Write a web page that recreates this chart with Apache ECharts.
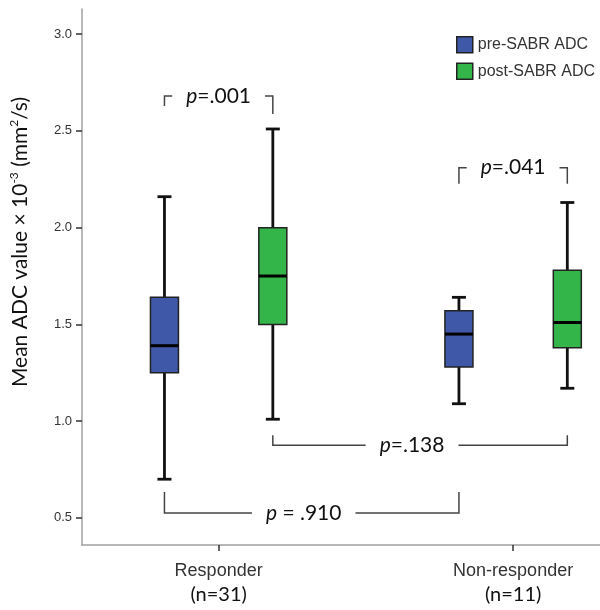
<!DOCTYPE html>
<html>
<head>
<meta charset="utf-8">
<script src="https://cdn.jsdelivr.net/npm/echarts@6/dist/echarts.min.js"></script>
<style>
  html, body { margin: 0; padding: 0; background: #fff; }
  #chart { width: 600px; height: 610px; }
</style>
</head>
<body>
<div id="chart"></div>
<script>
// data
const groups = ['Responder', 'Non-responder'];
const groupN = ['(n=31)', '(n=11)'];
const seriesNames = ['pre-SABR ADC', 'post-SABR ADC'];
// [min, Q1, median, Q3, max] per group
const preStats = [
  [0.70, 1.25, 1.39, 1.64, 2.16],
  [1.09, 1.28, 1.45, 1.57, 1.64]
];
const postStats = [
  [1.01, 1.50, 1.75, 2.00, 2.51],
  [1.17, 1.38, 1.51, 1.78, 2.13]
];
const yTicks = [0.5, 1.0, 1.5, 2.0, 2.5, 3.0];
// comparison brackets: from box, to box, y level, label
const pLabels = ['p=.001', 'p=.041', 'p=.138', 'p = .910'];
const pFrom = ['pre-0', 'pre-1', 'post-0', 'pre-0'];
const pTo = ['post-0', 'post-1', 'post-1', 'pre-1'];
const pLevel = [2.68, 2.31, 0.876, 0.526];

// layout of the boxes along the x axis
const offset = 0.184;
const boxX = {};
groups.forEach((g, i) => {
  boxX['pre-' + i] = i + 1 - offset;
  boxX['post-' + i] = i + 1 + offset;
});
const pDir = [1, 1, -1, -1]; // 1 = arms down, -1 = arms up
const pArms = [[10, 18], [16, 16], [10, 10], [21, 21]];
const pShift = [0, 0, -8, -8]; // label nudge, px

const calibri = 'Lato, "Open Sans", sans-serif';
const arial = '"Liberation Sans", Arial, sans-serif';

const chart = echarts.init(document.getElementById('chart'));

function renderBox(params, api) {
  const x = api.value(0);
  const lo = api.coord([x, api.value(1)]);
  const q1 = api.coord([x, api.value(2)]);
  const md = api.coord([x, api.value(3)]);
  const q3 = api.coord([x, api.value(4)]);
  const hi = api.coord([x, api.value(5)]);
  const hw = 14, cw = 7;
  const color = api.visual('color');
  const wStyle = { stroke: '#111', lineWidth: 2.8 };
  return {
    type: 'group',
    children: [
      { type: 'line', shape: { x1: hi[0], y1: hi[1], x2: q3[0], y2: q3[1] }, style: wStyle },
      { type: 'line', shape: { x1: q1[0], y1: q1[1], x2: lo[0], y2: lo[1] }, style: wStyle },
      { type: 'line', shape: { x1: hi[0] - cw, y1: hi[1], x2: hi[0] + cw, y2: hi[1] }, style: wStyle },
      { type: 'line', shape: { x1: lo[0] - cw, y1: lo[1], x2: lo[0] + cw, y2: lo[1] }, style: wStyle },
      {
        type: 'rect',
        shape: { x: q3[0] - hw, y: q3[1], width: hw * 2, height: q1[1] - q3[1] },
        style: { fill: color, stroke: '#222', lineWidth: 1.5 }
      },
      { type: 'line', shape: { x1: md[0] - hw, y1: md[1], x2: md[0] + hw, y2: md[1] }, style: { stroke: '#000', lineWidth: 3 } }
    ]
  };
}

function renderBracket(params, api) {
  const i = params.dataIndex;
  const a = api.coord([api.value(0), api.value(2)]);
  const b = api.coord([api.value(1), api.value(2)]);
  const d = pDir[i];
  const arms = pArms[i];
  const ls = { stroke: '#444', lineWidth: 1.5, fill: null };
  const lbl = pLabels[i];
  return {
    type: 'group',
    children: [
      {
        type: 'polyline',
        shape: { points: [[a[0], a[1] + d * arms[0]], a, b, [b[0], b[1] + d * arms[1]]] },
        style: ls
      },
      {
        type: 'text',
        x: (a[0] + b[0]) / 2 + pShift[i],
        y: a[1],
        style: {
          text: '{i|' + lbl.charAt(0) + '}{n|' + lbl.slice(1) + '}',
          rich: {
            i: { fontFamily: calibri, fontSize: 21, fontStyle: 'italic', fill: '#111' },
            n: { fontFamily: calibri, fontSize: 21, fill: '#111' }
          },
          align: 'center',
          verticalAlign: 'middle',
          backgroundColor: '#fff',
          padding: [0, 14]
        }
      }
    ]
  };
}

const preData = preStats.map((s, i) => [boxX['pre-' + i]].concat(s));
const postData = postStats.map((s, i) => [boxX['post-' + i]].concat(s));
const bracketData = pLabels.map((l, i) => [boxX[pFrom[i]], boxX[pTo[i]], pLevel[i]]);

const option = {
  animation: false,
  grid: { left: 81, right: 0, top: 9, bottom: 65 },
  legend: {
    orient: 'vertical',
    left: 451,
    top: 31,
    icon: 'rect',
    itemWidth: 16,
    itemHeight: 16,
    itemGap: 9,
    itemStyle: { borderColor: '#222', borderWidth: 1.5 },
    textStyle: { fontFamily: arial, fontSize: 16, color: '#333' },
    data: seriesNames
  },
  xAxis: {
    type: 'value',
    min: 0.536,
    max: 2.295,
    splitLine: { show: false },
    axisLine: { lineStyle: { color: '#a0a0a0', width: 1.5 } },
    axisTick: {
      show: true,
      customValues: groups.map((g, i) => i + 1),
      length: 6,
      lineStyle: { color: '#333', width: 1.5 }
    },
    axisLabel: {
      customValues: groups.map((g, i) => i + 1),
      margin: 15,
      formatter: v => '{a|' + groups[v - 1] + '}\n{b|' + groupN[v - 1] + '}',
      rich: {
        a: { fontFamily: arial, fontSize: 18, color: '#333', lineHeight: 23 },
        b: { fontFamily: calibri, fontSize: 20, color: '#111', lineHeight: 23 }
      }
    }
  },
  yAxis: {
    type: 'value',
    min: 0.36,
    max: 3.13,
    splitLine: { show: false },
    axisLine: { show: true, lineStyle: { color: '#a0a0a0', width: 1.5 } },
    axisTick: {
      show: true,
      customValues: yTicks,
      length: 6,
      lineStyle: { color: '#333', width: 1.5 }
    },
    axisLabel: {
      customValues: yTicks,
      margin: 10,
      formatter: v => v.toFixed(1),
      fontFamily: arial,
      fontSize: 13,
      color: '#333'
    },
    name: '{t|Mean ADC value × 10}{s|-3}{t| (mm}{s|2}{t|/s)}',
    nameLocation: 'middle',
    nameRotate: 90,
    nameGap: 50,
    nameTextStyle: {
      padding: [0, 0, 0, 70],
      rich: {
        t: { fontFamily: calibri, fontSize: 21, color: '#111', lineHeight: 24 },
        s: { fontFamily: calibri, fontSize: 12, color: '#111', lineHeight: 24, verticalAlign: 'top' }
      }
    }
  },
  series: [
    {
      name: seriesNames[0],
      type: 'custom',
      renderItem: renderBox,
      itemStyle: { color: '#3f58a8' },
      encode: { x: 0, y: [1, 2, 3, 4, 5] },
      data: preData
    },
    {
      name: seriesNames[1],
      type: 'custom',
      renderItem: renderBox,
      itemStyle: { color: '#33b54a' },
      encode: { x: 0, y: [1, 2, 3, 4, 5] },
      data: postData
    },
    {
      name: 'brackets',
      type: 'custom',
      renderItem: renderBracket,
      encode: { x: [0, 1], y: 2 },
      data: bracketData,
      z: 1
    }
  ]
};

chart.setOption(option);
</script>
</body>
</html>
